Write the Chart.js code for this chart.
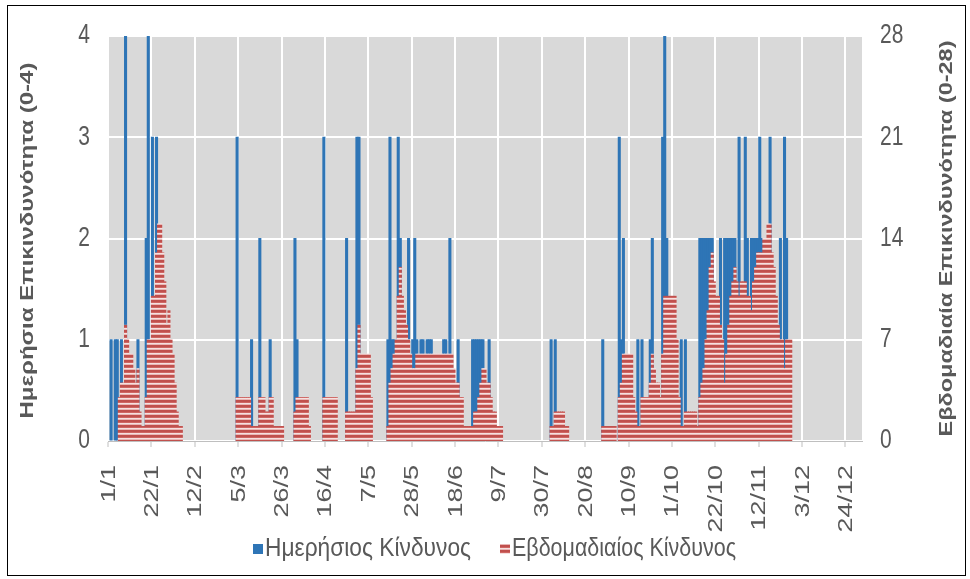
<!DOCTYPE html>
<html><head><meta charset="utf-8">
<script src="https://cdn.jsdelivr.net/npm/chart.js@4.4.1/dist/chart.umd.min.js"></script>
<style>html,body{margin:0;padding:0;background:#fff}#wrap{width:970px;height:579px;position:relative}</style>
</head><body><div id="wrap"><canvas id="c" width="970" height="579"></canvas></div>
<script>
// ---------- data ----------
const tickLabels = ['1/1','22/1','12/2','5/3','26/3','16/4','7/5','28/5','18/6','9/7','30/7','20/8','10/9','1/10','22/10','12/11','3/12','24/12'];
const monthLengths = [31,28,31,30,31,30,31,31,30,31,30,31];
const seriesNames = ['Ημερήσιος Κίνδυνος','Εβδομαδιαίος Κίνδυνος'];
const axisTitles = ['Ημερήσια Επικινδυνότητα (0-4)','Εβδομαδιαία Επικινδυνότητα (0-28)'];

// daily risk (0-4), one value per day
const dailyJan = [0,1,0,1,1,0,1,0,4,0, 0,0,0,0,1,0,0,0,2,4, 0,3,0,3,0,0,0,0,0,0, 0];
const dailyFeb = [0,0,0,0,0,0,0,0,0,0, 0,0,0,0,0,0,0,0,0,0, 0,0,0,0,0,0,0,0];
const dailyMar = [0,0,0,3,0,0,0,0,0,0, 1,0,0,0,2,0,0,0,0,1, 0,0,0,0,0,0,0,0,0,0, 0];
const dailyApr = [2,1,0,0,0,0,0,0,0,0, 0,0,0,0,3,0,0,0,0,0, 0,0,0,0,0,2,0,0,0,0];
const dailyMay = [3,3,0,0,0,0,0,0,0,0, 0,0,0,0,0,1,3,1,1,1, 3,2,0,0,0,2,0,1,2,1, 0];
const dailyJun = [1,1,0,1,1,1,0,0,0,0, 0,1,1,0,2,0,0,0,1,0, 0,0,0,0,0,1,1,1,1,1];
const dailyJul = [1,0,0,1,0,0,0,0,0,0, 0,0,0,0,0,0,0,0,0,0, 0,0,0,0,0,0,0,0,0,0, 0];
const dailyAug = [0,0,1,0,1,0,0,0,0,0, 0,0,0,0,0,0,0,0,0,0, 0,0,0,0,0,0,0,1,0,0, 0];
const dailySep = [0,0,0,0,3,1,2,0,0,0, 0,0,0,1,0,1,0,0,0,1, 2,0,0,0,0,3,4,2,0,0];
const dailyOct = [0,0,0,0,1,0,1,0,0,0, 0,0,0,2,2,2,2,2,2,2, 0,0,0,2,0,2,2,2,2,2, 2];
const dailyNov = [0,3,0,0,3,2,0,2,2,2, 2,3,2,0,0,0,3,0,0,0, 0,2,0,3,2,0,0,0,0,0];
const dailyDec = [0,0,0,0,0,0,0,0,0,0, 0,0,0,0,0,0,0,0,0,0, 0,0,0,0,0,0,0,0,0,0, 0];

// weekly risk (0-28), one value per day
const weeklyJan = [0,0,0,0,0,3,4,4,8,7, 6,6,5,4,5,2,1,1,3,7, 7,10,10,13,15,15,13,11,8,9, 7];
const weeklyFeb = [6,4,2,1,1,0,0,0,0,0, 0,0,0,0,0,0,0,0,0,0, 0,0,0,0,0,0,0,0];
const weeklyMar = [0,0,0,3,3,3,3,3,3,3, 1,1,1,1,3,3,3,2,2,3, 3,1,1,1,1,1,0,0,0,0, 0];
const weeklyApr = [2,3,3,3,3,3,3,1,0,0, 0,0,0,0,3,3,3,3,3,3, 3,0,0,0,0,2,2,2,2,2];
const weeklyMay = [5,8,6,6,6,6,6,3,0,0, 0,0,0,0,0,1,4,5,6,7, 10,12,10,9,8,7,6,5,5,6, 6];
const weeklyJun = [6,6,6,6,6,6,6,6,6,6, 6,6,6,6,6,6,5,4,4,3, 3,1,1,1,1,1,2,2,3,4];
const weeklyJul = [5,5,4,4,3,2,2,1,1,1, 0,0,0,0,0,0,0,0,0,0, 0,0,0,0,0,0,0,0,0,0, 0];
const weeklyAug = [0,0,1,1,2,2,2,2,2,1, 1,0,0,0,0,0,0,0,0,0, 0,0,0,0,0,0,0,1,1,1, 1];
const weeklySep = [1,1,1,0,3,4,6,6,6,6, 6,3,2,1,1,3,3,3,3,4, 6,5,4,4,3,6,10,10,10,10];
const weeklyOct = [10,10,7,3,1,1,2,2,2,2, 2,2,1,3,4,5,7,9,12,13, 11,10,10,8,7,4,6,8,10,11, 12];
const weeklyNov = [11,10,11,11,11,10,10,9,11,12, 13,13,13,14,14,15,15,13,12,10, 8,7,7,5,7,7,7,0,0,0];
const weeklyDec = [0,0,0,0,0,0,0,0,0,0, 0,0,0,0,0,0,0,0,0,0, 0,0,0,0,0,0,0,0,0,0, 0];

const daily = [].concat(dailyJan,dailyFeb,dailyMar,dailyApr,dailyMay,dailyJun,dailyJul,dailyAug,dailySep,dailyOct,dailyNov,dailyDec);
const weekly = [].concat(weeklyJan,weeklyFeb,weeklyMar,weeklyApr,weeklyMay,weeklyJun,weeklyJul,weeklyAug,weeklySep,weeklyOct,weeklyNov,weeklyDec);

// categories: every day of the year as d/m
const days = [];
monthLengths.forEach((n, m) => { for (let d = 1; d <= n; d++) days.push(d + '/' + (m + 1)); });

// ---------- styling ----------
const FONT = "'Liberation Sans', Arial, sans-serif";
const TXT = '#595959';
const BLUE = '#2e75b6';
const canvas = document.getElementById('c');
const ctx0 = canvas.getContext('2d');
function stripePattern() {
  const p = document.createElement('canvas');
  p.width = 4; p.height = 5;
  const g = p.getContext('2d');
  const rows = ['#c0504d', '#c0504d', '#cf6663', '#f6e0df', '#e9b7b6'];
  rows.forEach((c, i) => { g.fillStyle = c; g.fillRect(0, i, 4, 1); });
  return ctx0.createPattern(p, 'repeat');
}
const RED = stripePattern();

function rotText(ctx, text, cx, cy, font, len) {
  ctx.save();
  ctx.font = font;
  const w = ctx.measureText(text).width;
  ctx.translate(cx, cy);
  ctx.rotate(-Math.PI / 2);
  ctx.scale(len / w, 1);
  ctx.textAlign = 'center';
  ctx.textBaseline = 'middle';
  ctx.fillStyle = TXT;
  ctx.fillText(text, 0, 0);
  ctx.restore();
}

// tall, narrow lettering of the original: stretch each tick label around its anchor
const labelStretch = { x: [1.35, 1], y: [1, 1.28], y2: [1, 1.28] };
const tallText = {
  id: 'tallText',
  afterLayout(chart) {
    Object.keys(chart.scales).forEach(id => {
      const s = chart.scales[id];
      const st = labelStretch[id];
      if (!st || s._tallPatched) return;
      const base = s.drawLabels;
      s.drawLabels = function (area) {
        const c = this.ctx;
        const orig = c.fillText;
        c.fillText = function (t, x, y, mw) {
          this.save();
          this.translate(x, y);
          this.scale(st[0], st[1]);
          orig.call(this, t, 0, 0);
          this.restore();
        };
        try { base.call(this, area); } finally { delete c.fillText; }
      };
      s._tallPatched = true;
    });
  }
};

const deco = {
  id: 'deco',
  beforeDraw(chart) {
    const { ctx, chartArea: a } = chart;
    ctx.save();
    ctx.fillStyle = '#ffffff';
    ctx.fillRect(0, 0, chart.width, chart.height);
    ctx.fillStyle = '#d9d9d9';
    ctx.fillRect(a.left, a.top, a.right - a.left, a.bottom - a.top);
    ctx.restore();
  },
  afterDraw(chart) {
    const { ctx, chartArea: a } = chart;
    const midY = (a.top + a.bottom) / 2;
    rotText(ctx, axisTitles[0], 28, midY + 2, 'bold 18px ' + FONT, 356);
    rotText(ctx, axisTitles[1], 947, midY, 'bold 18px ' + FONT, 396);
    // legend
    ctx.save();
    ctx.font = '21px ' + FONT;
    ctx.textBaseline = 'middle';
    const items = [
      { x: 253, fill: BLUE, text: seriesNames[0], len: 206 },
      { x: 500, fill: RED, text: seriesNames[1], len: 224 }
    ];
    const ly = 549;
    items.forEach(it => {
      ctx.fillStyle = it.fill;
      ctx.fillRect(it.x, ly - 5, 10, 10);
      const w = ctx.measureText(it.text).width;
      ctx.save();
      ctx.translate(it.x + 12, ly);
      ctx.scale(it.len / w, 1.2);
      ctx.fillStyle = TXT;
      ctx.textAlign = 'left';
      ctx.fillText(it.text, 0, 0);
      ctx.restore();
    });
    // outer frame
    ctx.strokeStyle = '#000';
    ctx.lineWidth = 1;
    ctx.strokeRect(7.5, 5.5, 958, 570);
    ctx.restore();
  }
};

const inflate = c => (c.raw ? 0.5 : 0);

new Chart(canvas, {
  type: 'bar',
  data: {
    labels: days,
    datasets: [
      { label: seriesNames[0], data: daily, yAxisID: 'y', backgroundColor: BLUE, order: 1, grouped: false,
        barPercentage: 1, categoryPercentage: 1, borderWidth: 0, inflateAmount: inflate },
      { label: seriesNames[1], data: weekly, yAxisID: 'y2', backgroundColor: RED, order: 0, grouped: false,
        barPercentage: 1, categoryPercentage: 1, borderWidth: 0, inflateAmount: inflate }
    ]
  },
  options: {
    responsive: false,
    animation: false,
    devicePixelRatio: 1,
    events: [],
    layout: { padding: { top: 36, left: 0, right: 0, bottom: 0 } },
    plugins: { legend: { display: false }, tooltip: { enabled: false } },
    scales: {
      x: {
        type: 'category',
        offset: true,
        grid: {
          offset: true,
          lineWidth: 2,
          color: c => (c.tick && c.tick.label) ? '#ffffff' : 'rgba(0,0,0,0)',
          tickColor: c => (c.tick && c.tick.label) ? '#bfbfbf' : 'rgba(0,0,0,0)',
          tickLength: 6,
          tickWidth: 1
        },
        border: { display: true, color: '#bfbfbf', width: 1, z: 1 },
        ticks: {
          autoSkip: false,
          minRotation: 90,
          maxRotation: 90,
          padding: 18,
          color: TXT,
          font: { family: FONT, size: 20 },
          callback: function (v) { const l = this.getLabelForValue(v); return tickLabels.includes(l) ? l : ''; }
        },
        afterFit(s) { s.height = 138; }
      },
      y: {
        position: 'left',
        min: 0, max: 4,
        ticks: { stepSize: 1, color: TXT, font: { family: FONT, size: 21 }, padding: 18 },
        grid: { color: '#ffffff', lineWidth: 2, drawTicks: false },
        border: { display: false },
        afterFit(s) { s.width = 108; }
      },
      y2: {
        position: 'right',
        min: 0, max: 28,
        ticks: { stepSize: 7, color: TXT, font: { family: FONT, size: 21 }, padding: 18 },
        grid: { display: false, drawOnChartArea: false, drawTicks: false },
        border: { display: false },
        afterFit(s) { s.width = 108; }
      }
    }
  },
  plugins: [tallText, deco]
});
</script>
</body></html>
